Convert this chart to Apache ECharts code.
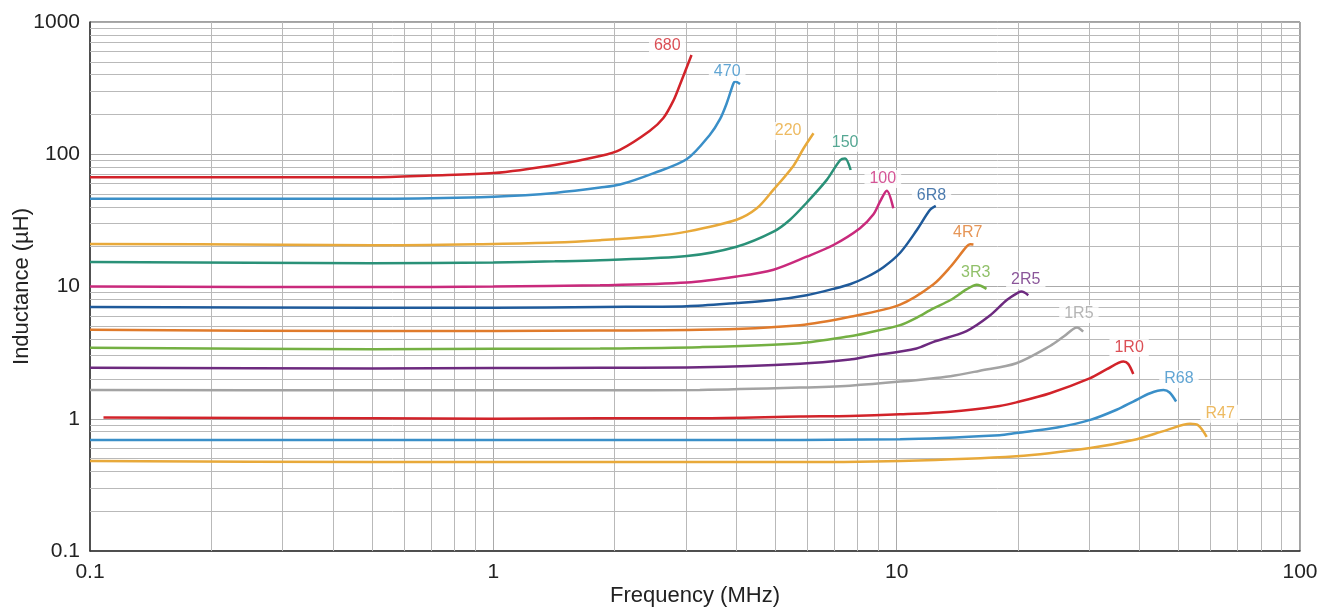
<!DOCTYPE html>
<html><head><meta charset="utf-8">
<script src="https://cdn.jsdelivr.net/npm/echarts@6/dist/echarts.min.js"></script>
<style>html,body{margin:0;padding:0;background:#fff}#c{width:1321px;height:607px}</style>
</head><body><div id="c"></div>
<script>
const xTicks = [0.1, 1, 10, 100];
const yTicks = [0.1, 1, 10, 100, 1000];
const xMinor = [0.2,0.3,0.4,0.5,0.6,0.7,0.8,0.9,2,3,4,5,6,7,8,9,20,30,40,50,60,70,80,90];
const yMinor = [0.2,0.3,0.4,0.5,0.6,0.7,0.8,0.9,2,3,4,5,6,7,8,9,20,30,40,50,60,70,80,90,200,300,400,500,600,700,800,900];

const names = ['680','470','220','150','100','6R8','4R7','3R3','2R5','1R5','1R0','R68','R47'];
const colors = ['#d2232a','#3a8fc8','#e8a93a','#2a9178','#c92a7c','#1f5a9a','#e07b2c','#74b043','#6d2a7f','#a3a3a3','#d2232a','#3a8fc8','#e8a93a'];

const s680 = [[0.1,67],[0.2,67],[0.3,67],[0.5,67],[0.7,69],[1,72],[1.42,83],[1.84,97],[2.06,108],[2.44,150],[2.64,188],[2.8,257],[2.9,334],[3.1,563]];
const s470 = [[0.1,46],[0.3,46],[0.5,46],[0.87,47],[1.2,49],[1.42,51],[1.84,56],[2.06,59],[2.5,72],[3.02,92],[3.44,140],[3.65,185],[3.79,243],[3.94,344],[3.98,355],[4.09,340]];
const s220 = [[0.1,21],[0.3,20.7],[0.5,20.5],[1,21],[1.42,21.5],[1.84,22.4],[2.5,24],[3.02,26],[4.01,32],[4.5,39],[4.95,54],[5.55,82],[5.87,110],[6.22,144]];
const s150 = [[0.1,15.3],[0.5,15],[1,15.2],[1.42,15.5],[1.84,15.8],[3.02,17],[4.01,20],[4.95,26],[5.44,32],[5.98,43],[6.71,64],[7.24,90],[7.45,93],[7.69,76]];
const s100 = [[0.1,10],[0.5,9.9],[1,10],[1.84,10.2],[3.02,10.7],[4.01,11.9],[4.95,13.4],[5.98,16.8],[6.97,20.6],[8.11,27.6],[8.75,35],[9.1,44],[9.45,53],[9.81,39]];
const s6R8 = [[0.1,7],[0.5,6.9],[1,6.9],[1.84,7],[3.02,7.1],[4.01,7.5],[4.95,7.9],[5.98,8.6],[6.97,9.6],[7.66,10.4],[8.43,11.8],[9.27,14],[10.2,18],[11.2,26.5],[12.1,38],[12.5,40.7]];
const s4R7 = [[0.1,4.7],[0.5,4.6],[1,4.6],[1.84,4.65],[3.25,4.7],[5.76,5.1],[7.66,5.9],[10.2,7.3],[12.3,10.3],[13.6,14.1],[14.9,20],[15.2,20.9],[15.5,20.8]];
const s3R3 = [[0.1,3.44],[0.5,3.36],[1,3.38],[1.84,3.4],[3.25,3.48],[5.76,3.73],[7.66,4.2],[8.43,4.45],[10.2,5.1],[11.2,5.8],[12.3,6.8],[13.6,7.9],[14.9,9.5],[15.8,10.3],[16.7,9.6]];
const s2R5 = [[0.1,2.43],[0.5,2.4],[1,2.42],[1.84,2.43],[3.25,2.45],[5.76,2.6],[7.66,2.8],[8.43,2.95],[11.2,3.4],[12.3,3.8],[14.9,4.6],[17,6.0],[18.75,7.9],[20,9.0],[20.4,9.15],[21.2,8.6]];
const s1R5 = [[0.1,1.65],[0.5,1.64],[1,1.64],[1.84,1.64],[3.25,1.65],[5.76,1.72],[7.66,1.78],[10.2,1.91],[13.6,2.1],[16,2.3],[19.8,2.63],[24,3.55],[26,4.2],[28,4.9],[29,4.56]];
const s1R0 = [[0.108,1.02],[0.5,1.01],[1,1.0],[1.84,1.01],[3.25,1.01],[5.76,1.04],[7.66,1.05],[10.2,1.08],[13.6,1.13],[18,1.25],[19.8,1.33],[24,1.56],[30.2,2.03],[33.2,2.37],[36.5,2.71],[37.5,2.6],[38.6,2.18]];
const sR68 = [[0.1,0.69],[0.5,0.69],[1,0.69],[3.25,0.69],[10.2,0.7],[18,0.75],[19.8,0.78],[25,0.86],[30.2,0.98],[35.1,1.17],[38.6,1.35],[42.5,1.56],[45.9,1.65],[47.5,1.58],[49.3,1.35]];
const sR47 = [[0.1,0.48],[0.5,0.47],[1,0.47],[5,0.47],[10.2,0.48],[19.8,0.52],[30.2,0.6],[38.6,0.69],[46.7,0.82],[53.4,0.915],[56,0.89],[58.7,0.73]];
const seriesData = [s680,s470,s220,s150,s100,s6R8,s4R7,s3R3,s2R5,s1R5,s1R0,sR68,sR47];

const labelPos = [[2.70,658],[3.80,419],[5.38,150],[7.45,122],[9.24,65],[12.2,49],[15.0,25.4],[15.7,12.7],[20.9,11.2],[28.3,6.2],[37.7,3.43],[50.1,2.0],[63.4,1.09]];

const FONT = '"Liberation Sans", Arial, sans-serif';
const chart = echarts.init(document.getElementById('c'), null, {renderer:'canvas'});

const series = [];
seriesData.forEach((d,i)=>{
  series.push({
    type:'line', name:names[i], data:d, showSymbol:false, symbol:'none',
    smooth:0.3, z:5,
    lineStyle:{color:colors[i], width:2.5}, silent:true
  });
});
series[0].markLine = {
  silent:true, symbol:'none', label:{show:false}, animation:false,
  lineStyle:{color:'#b9b9b9', width:1, type:'solid'},
  data: xMinor.map(v=>({xAxis:v})).concat(yMinor.map(v=>({yAxis:v})))
};
series.push({
  type:'scatter', data: labelPos.map((p,i)=>({value:p, label:{color:colors[i]}})),
  symbolSize:0, z:10, silent:true,
  label:{show:true, position:'inside', formatter:(p)=>names[p.dataIndex],
    fontFamily:FONT, fontSize:16, textBorderWidth:0, backgroundColor:'#fff', padding:[1,5,1,5]}
});

chart.setOption({
  animation:false,
  backgroundColor:'#fff',
  grid:{left:90, right:21, top:22, bottom:56, show:true, borderColor:'#444', borderWidth:1, backgroundColor:'transparent', outerBoundsMode:'none', containLabel:false},
  xAxis:{type:'log', logBase:10, min:0.1, max:100,
    name:'Frequency (MHz)', nameLocation:'middle', nameGap:34, nameMoveOverlap:false,
    nameTextStyle:{fontFamily:FONT, fontSize:22, color:'#222'},
    axisLine:{show:true, lineStyle:{color:'#333', width:1.5}},
    axisTick:{show:false},
    axisLabel:{fontFamily:FONT, fontSize:21, color:'#222', margin:11, formatter:(v)=>String(+v.toPrecision(3))},
    splitLine:{show:true, lineStyle:{color:'#aaa', width:1}}
  },
  yAxis:{type:'log', logBase:10, min:0.1, max:1000,
    name:'Inductance (\u00b5H)', nameLocation:'middle', nameGap:57, nameRotate:90, nameMoveOverlap:false,
    nameTextStyle:{fontFamily:FONT, fontSize:22, color:'#222'},
    axisLine:{show:true, lineStyle:{color:'#333', width:1.5}},
    axisTick:{show:false},
    axisLabel:{fontFamily:FONT, fontSize:21, color:'#222', margin:10, formatter:(v)=>String(+v.toPrecision(3))},
    splitLine:{show:true, lineStyle:{color:'#aaa', width:1}}
  },
  series:series
});
</script></body></html>
